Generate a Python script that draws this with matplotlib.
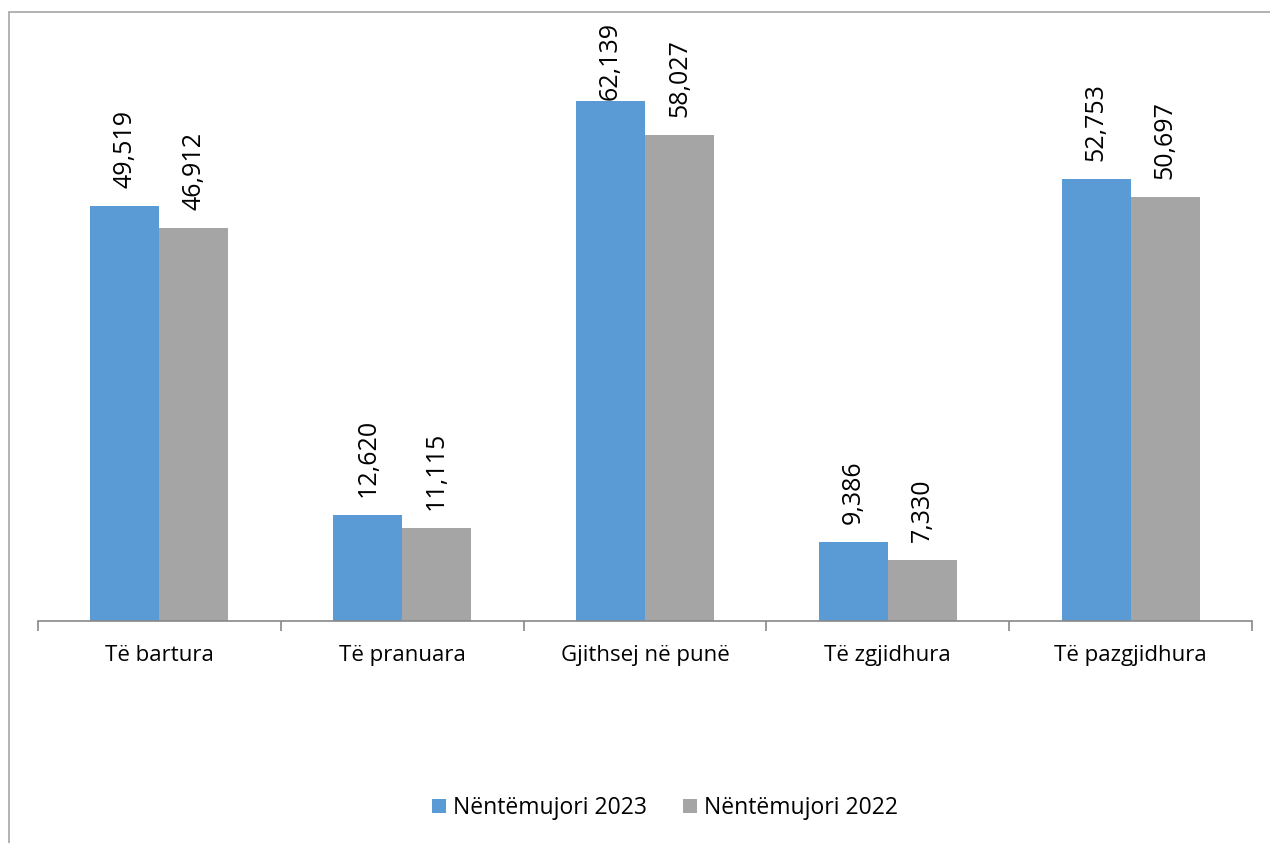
import matplotlib.pyplot as plt
import numpy as np
from matplotlib.patches import Rectangle

plt.rcParams['font.family'] = ['Open Sans', 'DejaVu Sans']

categories = ['Të bartura', 'Të pranuara', 'Gjithsej në punë', 'Të zgjidhura', 'Të pazgjidhura']
series_names = ['Nëntëmujori 2023', 'Nëntëmujori 2022']
vals_2023 = [49519, 12620, 62139, 9386, 52753]
vals_2022 = [46912, 11115, 58027, 7330, 50697]
colors = ['#5B9BD5', '#A5A5A5']

W, H = 1270, 843
fig = plt.figure(figsize=(W / 100, H / 100), dpi=100)

# chart border (only left and top visible in the crop)
fig.patches.append(Rectangle((9 / W, -0.1), 1.2, 1 - 12 / H + 0.1, transform=fig.transFigure,
                             fill=False, edgecolor='#A6A6A6', linewidth=1.2))

ax = fig.add_axes([38 / W, 1 - 621 / H, (1252 - 38) / W, (621 - 35) / H])

x = np.arange(len(categories))
width = 0.284
bars1 = ax.bar(x - width / 2, vals_2023, width, color=colors[0], label=series_names[0])
bars2 = ax.bar(x + width / 2, vals_2022, width, color=colors[1], label=series_names[1])

ax.set_xlim(-0.5, len(categories) - 0.5)
ax.set_ylim(0, 70000)

# labels sit ~13pt above the bar, but are kept inside the chart (like Excel does)
label_len = 80  # approx text length in px
top_px = 20
for bars, vals in [(bars1, vals_2023), (bars2, vals_2022)]:
    for b, v in zip(bars, vals):
        bar_top_px = H - ax.transData.transform((0, v))[1]
        gap_px = min(18, bar_top_px - label_len - top_px)
        ax.annotate(f"{v:,}", (b.get_x() + b.get_width() / 2, v), xytext=(0, gap_px * 0.72),
                    textcoords='offset points', rotation=90, ha='center', va='bottom',
                    fontsize=18, color='#000000')

ax.set_yticks([])
for s in ['top', 'right', 'left']:
    ax.spines[s].set_visible(False)
ax.spines['bottom'].set_color('#888888')
ax.spines['bottom'].set_linewidth(1.2)

ax.set_xticks(np.arange(-0.5, len(categories)), minor=False)
ax.set_xticklabels([])
ax.tick_params(axis='x', which='major', length=7, color='#888888', width=1.2)
ax.set_xticks(x, minor=True)
ax.set_xticklabels(categories, minor=True, fontsize=16)
ax.tick_params(axis='x', which='minor', length=0, pad=17)

fig.legend(handles=[bars1, bars2], labels=series_names, loc='center', bbox_to_anchor=(665 / W, 1 - 808 / H),
           ncol=2, frameon=False, fontsize=16.5, handlelength=0.6, handleheight=0.6,
           handletextpad=0.3, columnspacing=1.6)

fig.savefig('out.png', dpi=100)
